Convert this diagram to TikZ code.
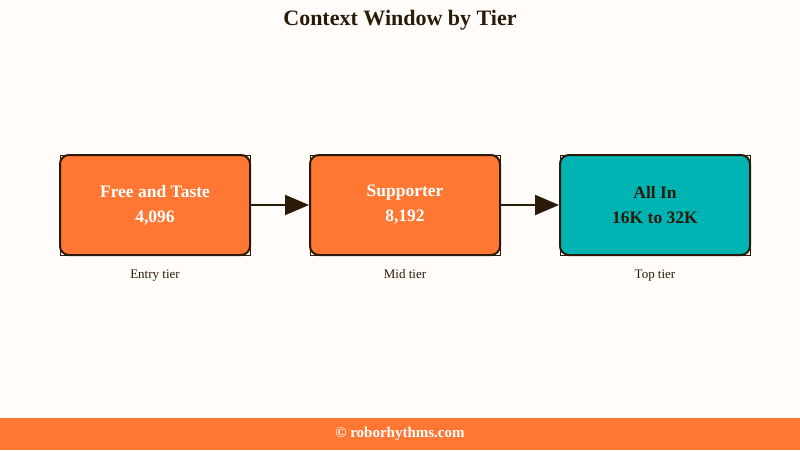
\documentclass[tikz,border=0pt]{standalone}
\usepackage{fontspec}
\setmainfont{Liberation Serif}
\usetikzlibrary{arrows.meta}
\definecolor{bg}{HTML}{FFFCFA}
\definecolor{org}{HTML}{FF7733}
\definecolor{teal}{HTML}{00B4B4}
\definecolor{dk}{HTML}{2B1A08}
\begin{document}
\begin{tikzpicture}[x=1pt,y=-1pt,
 box/.style={draw=dk,line width=2pt,rounded corners=9pt,minimum width=190pt,minimum height=100pt,align=center,font=\bfseries\fontsize{17.5}{25}\selectfont},
 corner/.style={draw=dk,line width=1pt},
 lab/.style={font=\fontsize{13}{15}\selectfont,text=dk,anchor=base},
 arr/.style={draw=dk,line width=2pt,-{Triangle[length=24pt,width=20pt]}}]
\fill[bg] (0,0) rectangle (800,450);
\useasboundingbox (0,0) rectangle (800,450);
\node[font=\bfseries\fontsize{22}{24}\selectfont,text=dk] (title) at (400,20) {Context Window by Tier};
\foreach \x in {60,310,560}{\draw[corner] (\x,155) rectangle (\x+190,255);}
\node[box,fill=org,text=white] (a) at (155,205) {Free and Taste\\4,096};
\node[box,fill=org,text=white] (b) at (405,205) {Supporter\\8,192};
\node[box,fill=teal,text=dk] (c) at (655,205) {All In\\16K to 32K};
\node[lab] (la) at (155,278) {Entry tier};
\node[lab] (lb) at (405,278) {Mid tier};
\node[lab] (lc) at (655,278) {Top tier};
\draw[arr] (a.east) -- (b.west);
\draw[arr] (b.east) -- (c.west);
\fill[org] (0,418) rectangle (800,450);
\node[font=\bfseries\fontsize{15}{16}\selectfont,text=white] (foot) at (400,434) {© roborhythms.com};
\end{tikzpicture}
\end{document}
